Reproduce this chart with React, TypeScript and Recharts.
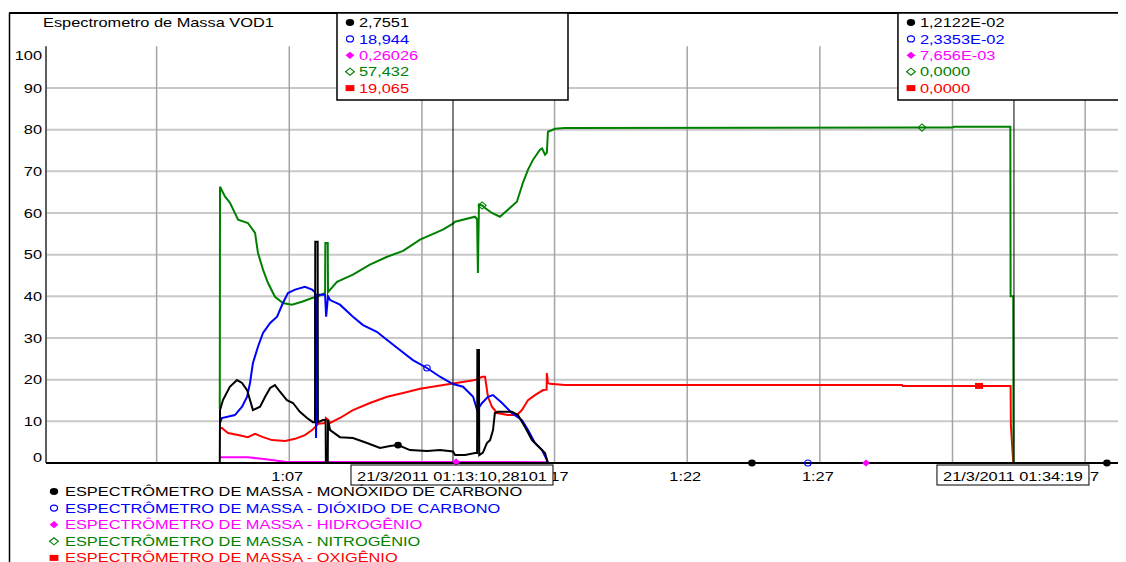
import { LineChart, Line, XAxis, YAxis, CartesianGrid, ReferenceLine, Legend } from "recharts";

// minutes after 1:00, values in %
const coTimes = [4.38, 4.39, 4.5, 4.76, 5.03, 5.22, 5.41, 5.52, 5.63, 5.9, 6.09, 6.28, 6.46, 6.65, 6.91, 7.14, 7.4, 7.67, 7.89, 7.97, 7.98, 8.07, 8.08, 8.27, 8.37, 8.38, 8.45, 8.46, 8.54, 8.91, 9.4, 9.93, 10.42, 10.8, 11.1, 11.55, 12.19, 12.68, 13.17, 13.25, 13.63, 14.0, 14.08, 14.09, 14.15, 14.16, 14.3, 14.45, 14.57, 14.68, 14.75, 14.87, 15.39, 15.62, 15.89, 16.15, 16.45, 16.64, 16.75, 24.44, 37.82, 38.54];
const coValues = [0, 12.7, 15.1, 18.3, 19.9, 19.2, 17.5, 15.1, 12.7, 13.5, 15.9, 18.0, 18.7, 17.1, 15.1, 14.4, 12.3, 10.8, 9.8, 9.8, 53.1, 53.1, 9.8, 10.3, 10.3, 0, 0, 10.3, 7.9, 6.2, 6.0, 4.8, 3.6, 4.1, 4.3, 3.1, 2.9, 3.1, 2.76, 1.9, 1.9, 2.4, 2.4, 27.1, 27.1, 1.9, 2.5, 4.8, 5.5, 7.9, 12.0, 12.3, 12.3, 11.5, 8.6, 5.5, 3.6, 2.4, 0, 0, 0, 0];
const coMarks = [11.1, 24.44, 37.82];

const co2Times = [4.39, 4.46, 4.95, 5.22, 5.41, 5.52, 5.63, 5.82, 6.01, 6.28, 6.54, 6.76, 6.95, 7.22, 7.59, 7.86, 7.97, 8.01, 8.05, 8.35, 8.39, 8.46, 8.54, 8.91, 9.4, 9.78, 10.3, 10.69, 11.17, 11.66, 12.19, 12.68, 13.17, 13.55, 13.93, 14.08, 14.27, 14.49, 14.68, 15.02, 15.39, 15.77, 16.0, 16.26, 16.53, 16.71, 16.75, 26.55, 38.54];
const co2Values = [9.6, 10.8, 11.5, 13.5, 15.9, 19.2, 24.0, 27.9, 31.2, 33.6, 35.1, 38.4, 40.8, 41.6, 42.3, 41.6, 41.0, 6.0, 40.4, 40.4, 35.1, 40.0, 39.1, 38.0, 35.1, 33.1, 31.5, 29.5, 27.1, 24.7, 22.8, 20.7, 18.94, 18.3, 15.9, 12.7, 14.4, 15.9, 16.3, 14.4, 12.0, 10.3, 7.9, 4.8, 3.1, 0.7, 0, 0, 0];
const co2Marks = [12.19, 26.55];

const h2Times = [4.39, 5.44, 5.97, 6.84, 13.29, 16.75, 16.76, 28.74, 38.54];
const h2Values = [1.4, 1.4, 1.0, 0.3, 0.26, 0.2, 0, 0, 0];
const h2Marks = [13.29, 28.74];

const n2Times = [4.38, 4.39, 4.58, 4.76, 5.07, 5.44, 5.71, 5.82, 6.01, 6.2, 6.46, 6.76, 7.1, 7.48, 7.86, 8.05, 8.35, 8.36, 8.45, 8.46, 8.8, 9.4, 10.04, 10.69, 11.29, 11.93, 12.79, 13.17, 13.25, 14.0, 14.08, 14.11, 14.15, 14.27, 14.38, 14.64, 14.94, 15.24, 15.58, 15.81, 16.0, 16.19, 16.45, 16.53, 16.64, 16.71, 16.75, 17.02, 17.39, 30.85, 32.0, 32.05, 34.18, 34.19, 34.29, 34.3, 38.54];
const n2Values = [13.0, 66.3, 63.9, 62.5, 58.4, 57.6, 55.2, 50.4, 46.4, 43.2, 39.9, 38.4, 38.0, 38.7, 39.6, 39.9, 40.8, 52.8, 52.8, 41.0, 43.5, 45.2, 47.6, 49.5, 50.9, 53.6, 56.0, 57.43, 57.9, 59.1, 58.5, 45.6, 62.0, 61.8, 61.2, 60.0, 59.1, 60.8, 62.7, 67.3, 70.4, 72.8, 75.2, 75.5, 74.0, 74.5, 79.5, 80.2, 80.4, 80.5, 80.5, 80.7, 80.7, 40.0, 40.0, 0, 0];
const n2Marks = [14.27, 30.85];

const o2Times = [4.39, 4.46, 4.69, 5.07, 5.44, 5.71, 6.01, 6.35, 6.84, 7.22, 7.59, 7.86, 8.09, 8.35, 8.38, 8.46, 8.54, 8.91, 9.4, 10.04, 10.69, 11.29, 11.93, 12.57, 13.17, 14.0, 14.27, 14.38, 14.49, 14.64, 14.83, 15.24, 15.58, 15.77, 16.0, 16.26, 16.57, 16.7, 16.71, 16.75, 16.83, 17.39, 30.1, 30.12, 33.0, 34.19, 34.2, 34.29, 38.54];
const o2Values = [8.4, 8.4, 7.2, 6.7, 6.2, 7.0, 6.2, 5.5, 5.3, 5.8, 6.7, 7.9, 9.4, 9.6, 10.8, 10.4, 9.6, 10.8, 12.7, 14.4, 15.9, 16.8, 17.8, 18.5, 19.07, 19.9, 20.7, 20.7, 15.9, 13.5, 12.0, 11.5, 11.5, 12.7, 15.1, 16.3, 17.5, 17.6, 21.6, 19.2, 19.0, 18.7, 18.7, 18.5, 18.5, 18.5, 9.1, 0, 0];
const o2Marks = [33.0];

const xDomain = [-2.17, 38.54];
const xTicks = [2, 7, 12, 17, 22, 27, 32, 37];
const xHiddenTicks = [2, 12, 32];
const yTicks = [0, 10, 20, 30, 40, 50, 60, 70, 80, 90, 100];
const gridValues = [10, 20, 30, 40, 50, 60, 70, 80, 90];

const seriesNames = [
  "ESPECTRÔMETRO DE MASSA - MONÓXIDO DE CARBONO",
  "ESPECTRÔMETRO DE MASSA - DIÓXIDO DE CARBONO",
  "ESPECTRÔMETRO DE MASSA - HIDROGÊNIO",
  "ESPECTRÔMETRO DE MASSA - NITROGÊNIO",
  "ESPECTRÔMETRO DE MASSA - OXIGÊNIO",
];

const cursorTimes = [13.1713, 34.3167];
const cursorStamps = ["21/3/2011 01:13:10,28101", "21/3/2011 01:34:19"];
const cursorStampWidths = [202, 152];
const cursor1Values = ["2,7551", "18,944", "0,26026", "57,432", "19,065"];
const cursor2Values = ["1,2122E-02", "2,3353E-02", "7,656E-03", "0,0000", "0,0000"];

const FONT = "'Liberation Sans', Arial, sans-serif";
const SX = 1.26;

const toPoints = (times: number[], values: number[]) => times.map((t, i) => ({ t, v: values[i] }));

const series = [
  { key: "co", name: seriesNames[0], color: "#000000", symbol: "dot", data: toPoints(coTimes, coValues), marks: coMarks },
  { key: "co2", name: seriesNames[1], color: "#0000ff", symbol: "circle", data: toPoints(co2Times, co2Values), marks: co2Marks },
  { key: "h2", name: seriesNames[2], color: "#ff00ff", symbol: "diamond", data: toPoints(h2Times, h2Values), marks: h2Marks },
  { key: "n2", name: seriesNames[3], color: "#008000", symbol: "diamondOpen", data: toPoints(n2Times, n2Values), marks: n2Marks },
  { key: "o2", name: seriesNames[4], color: "#ff0000", symbol: "square", data: toPoints(o2Times, o2Values), marks: o2Marks },
];
const drawOrder = [4, 3, 2, 1, 0];

function SText({ x, y, children, fill = "#000", anchor = "start" }: any) {
  return (
    <text
      transform={`translate(${x},${y}) scale(${SX},1)`}
      x={0}
      y={0}
      fill={fill}
      fontSize={13}
      fontFamily={FONT}
      textAnchor={anchor}
    >
      {children}
    </text>
  );
}

function Symbol({ type, color, x, y, sx = 1 }: any) {
  const w = 4 * sx;
  if (type === "dot") return <ellipse cx={x} cy={y} rx={w * 0.95} ry={3.4} fill={color} />;
  if (type === "circle") return <ellipse cx={x} cy={y} rx={w * 0.8} ry={3} fill="none" stroke={color} strokeWidth={1.2} />;
  if (type === "diamond")
    return <polygon points={`${x - w},${y} ${x},${y - 3.6} ${x + w},${y} ${x},${y + 3.6}`} fill={color} />;
  if (type === "diamondOpen")
    return (
      <polygon
        points={`${x - w},${y} ${x},${y - 3.6} ${x + w},${y} ${x},${y + 3.6}`}
        fill="none"
        stroke={color}
        strokeWidth={1.1}
      />
    );
  return <rect x={x - w} y={y - 3} width={w * 2} height={6} fill={color} />;
}

const makeDot = (s: any) => (props: any) => {
  const { cx, cy, payload, index } = props;
  if (!payload || !s.marks.includes(payload.t)) return <g key={`d-${s.key}-${index}`} />;
  return (
    <g key={`d-${s.key}-${index}`}>
      <Symbol type={s.symbol} color={s.color} x={cx} y={cy} />
    </g>
  );
};

// value box at the top of each cursor line
function CursorLabel({ viewBox, values }: any) {
  if (!viewBox) return null;
  const x = viewBox.x;
  const top = viewBox.y - 33.3;
  return (
    <g>
      <rect x={x - 116} y={top} width={231} height={87} fill="#fff" stroke="#000" strokeWidth={1.5} />
      {values.map((v: string, i: number) => (
        <g key={i}>
          <Symbol type={series[i].symbol} color={series[i].color} x={x - 103} y={top + 9.5 + i * 16.4} sx={1.1} />
          <SText x={x - 94} y={top + 14.2 + i * 16.4} fill={series[i].color}>
            {v}
          </SText>
        </g>
      ))}
    </g>
  );
}

// tick labels; the last tick also draws the cursor time stamps so they cover the other labels
function XTick({ x, y, payload, index, width }: any) {
  const m = payload.value;
  const label = xHiddenTicks.includes(m) ? "" : `1:${String(m).padStart(2, "0")}`;
  const last = index === xTicks.length - 1;
  const pxPerMin = (width || 1080) / (xDomain[1] - xDomain[0]);
  return (
    <g>
      <SText x={x - 2} y={y + 17.5} anchor="middle">
        {label}
      </SText>
      {last &&
        cursorTimes.map((t, i) => {
          const cx = x + (t - m) * pxPerMin;
          const w = cursorStampWidths[i];
          return (
            <g key={i}>
              <rect x={cx - w / 2 - 1} y={y + 2} width={w} height={20} fill="#fff" stroke="#000" strokeWidth={1} />
              <SText x={cx - 1} y={y + 17.5} anchor="middle">
                {cursorStamps[i]}
              </SText>
            </g>
          );
        })}
    </g>
  );
}

function YTick({ x, y, payload }: any) {
  let dy = 4.6;
  if (payload.value === 100) dy += 9;
  if (payload.value === 0) dy -= 6;
  return <SText x={x} y={y + dy} anchor="end">{payload.value}</SText>;
}

function LegendBox() {
  return (
    <svg width={700} height={79} style={{ display: "block" }}>
      {series.map((s, i) => (
        <g key={s.key}>
          <Symbol type={s.symbol} color={s.color} x={46} y={8.5 + i * 16.6} sx={1.1} />
          <SText x={57} y={13 + i * 16.6} fill={s.color}>
            {s.name}
          </SText>
        </g>
      ))}
    </svg>
  );
}

export default function App() {
  return (
    <div style={{ width: 1118, height: 554, overflow: "hidden", position: "relative", background: "#fff" }}>
      <LineChart width={1118} height={554} margin={{ top: 38.3, right: 0, left: 0, bottom: 0 }}>
        <line x1={1} y1={5} x2={1118} y2={5} stroke="#000" strokeWidth={2} />
        <line x1={1.5} y1={5} x2={1.5} y2={554} stroke="#000" strokeWidth={1.5} />
        <SText x={35} y={18.6}>Espectrometro de Massa VOD1</SText>
        <CartesianGrid vertical={false} horizontalValues={gridValues} stroke="#c8c8c8" strokeWidth={2} />
        <CartesianGrid horizontal={false} stroke="#a4a4a4" strokeWidth={1.5} />
        {drawOrder.map((i) => {
          const s = series[i];
          return (
            <Line
              key={s.key}
              data={s.data}
              dataKey="v"
              name={s.name}
              type="linear"
              stroke={s.color}
              strokeWidth={2}
              dot={makeDot(s)}
              activeDot={false}
              isAnimationActive={false}
            />
          );
        })}
        <ReferenceLine x={cursorTimes[0]} stroke="#000" strokeWidth={1} label={<CursorLabel values={cursor1Values} />} />
        <ReferenceLine x={cursorTimes[1]} stroke="#000" strokeWidth={1} label={<CursorLabel values={cursor2Values} />} />
        <XAxis
          type="number"
          dataKey="t"
          domain={xDomain}
          allowDataOverflow
          ticks={xTicks}
          height={20}
          tickSize={0}
          tickMargin={0}
          tickLine={false}
          axisLine={{ stroke: "#000", strokeWidth: 2 }}
          tick={<XTick />}
        />
        <YAxis
          type="number"
          domain={[0, 100]}
          ticks={yTicks}
          width={38}
          tickSize={0}
          tickMargin={4}
          tickLine={false}
          axisLine={{ stroke: "#000", strokeWidth: 1 }}
          tick={<YTick />}
        />
        <Legend
          verticalAlign="bottom"
          content={() => <LegendBox />}
          wrapperStyle={{ left: 0, bottom: 0, width: 700, height: 79 }}
        />
      </LineChart>
    </div>
  );
}
